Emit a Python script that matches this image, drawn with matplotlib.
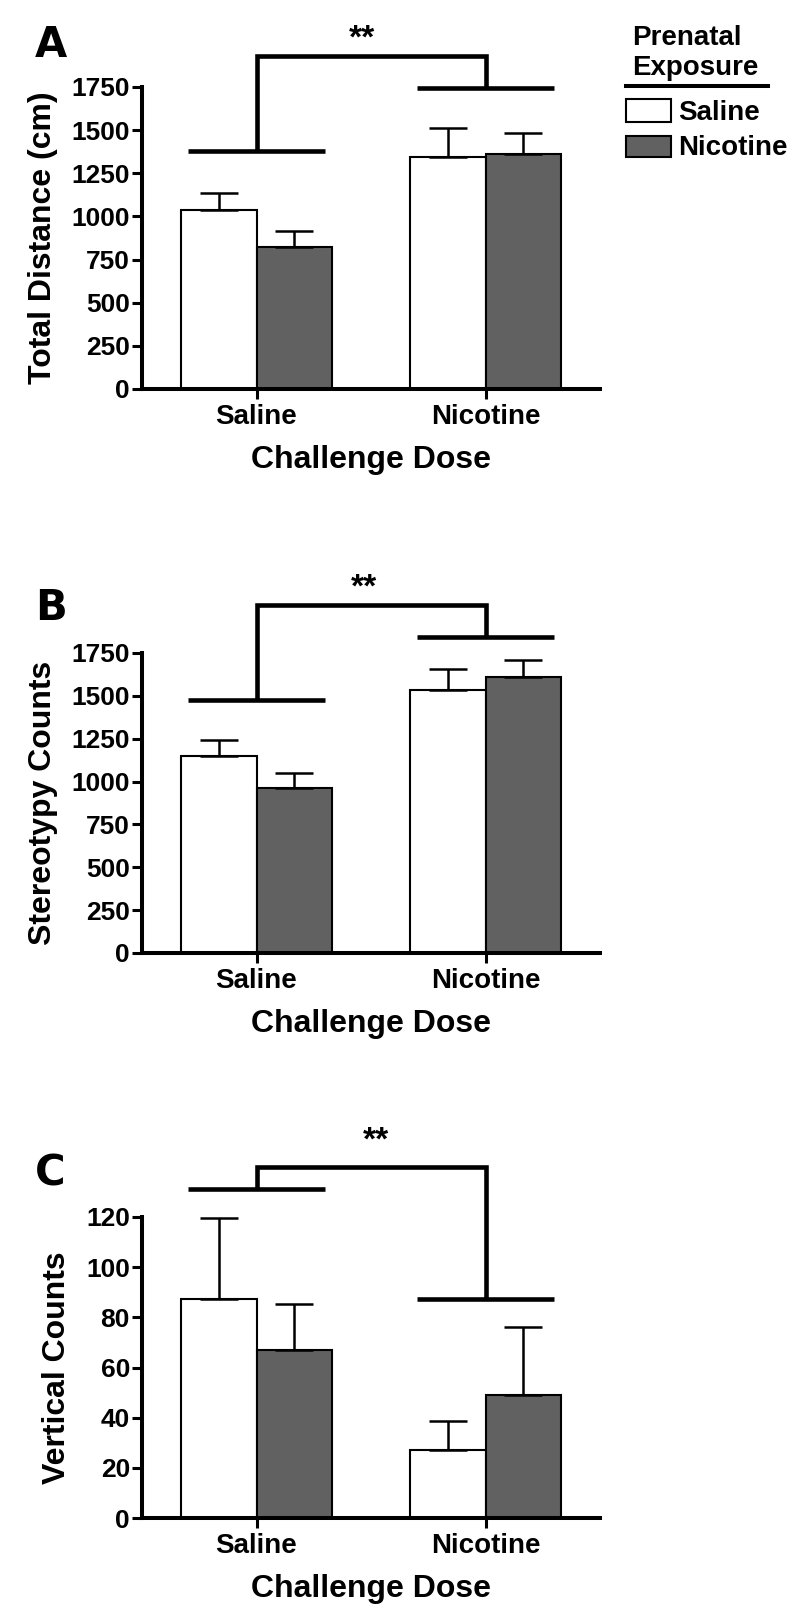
import matplotlib
matplotlib.use("Agg")
import matplotlib.pyplot as plt
import numpy as np
from matplotlib.patches import Rectangle
from matplotlib.lines import Line2D

plt.rcParams['font.family'] = ['Liberation Sans', 'DejaVu Sans']
plt.rcParams['font.weight'] = 'bold'

# ---------------- data ----------------
challenge = ['Saline', 'Nicotine']
series_names = ['Saline', 'Nicotine']  # prenatal exposure

a_saline = [1040, 1347]
a_saline_err = [94, 165]
a_nicotine = [824, 1362]
a_nicotine_err = [93, 121]

b_saline = [1149, 1533]
b_saline_err = [96, 124]
b_nicotine = [960, 1610]
b_nicotine_err = [92, 101]

c_saline = [87.3, 27.0]
c_saline_err = [32.3, 11.8]
c_nicotine = [66.8, 48.9]
c_nicotine_err = [18.6, 27.1]

ylabels = ['Total Distance (cm)', 'Stereotypy Counts', 'Vertical Counts']
panel_letters = ['A', 'B', 'C']
yticks_ab = [0, 250, 500, 750, 1000, 1250, 1500, 1750]
yticks_c = [0, 20, 40, 60, 80, 100, 120]

# significance bracket levels (data units): left group line, right group line, top line
bracket_left = [1380, 1478, 131.2]
bracket_right = [1747, 1845, 87.3]
bracket_top = [1930, 2031, 139.9]
star_x = [0.46, 0.47, 0.52]
star_text = '**'

# ---------------- layout ----------------
W, H = 800, 1612
fig = plt.figure(figsize=(W / 100, H / 100), dpi=100)

def rect(left, top, right, bottom):
    return [left / W, 1 - bottom / H, (right - left) / W, (bottom - top) / H]

ax_rects = [rect(142, 87, 600, 389), rect(142, 653, 600, 953), rect(142, 1217, 600, 1518)]
letter_pos = [(35, 57), (35, 620), (35, 1185)]
star_off = [12, 12, 19]

grey = '#616161'
bw = 0.33

datasets = [
    (a_saline, a_saline_err, a_nicotine, a_nicotine_err, yticks_ab),
    (b_saline, b_saline_err, b_nicotine, b_nicotine_err, yticks_ab),
    (c_saline, c_saline_err, c_nicotine, c_nicotine_err, yticks_c),
]

for i, (sal, sal_e, nic, nic_e, yt) in enumerate(datasets):
    ax = fig.add_axes(ax_rects[i])
    x = np.arange(len(challenge))
    ax.bar(x - bw / 2, sal, width=bw, color='white', edgecolor='black', linewidth=1.5, zorder=2)
    ax.bar(x + bw / 2, nic, width=bw, color=grey, edgecolor='black', linewidth=1.5, zorder=2)
    ax.errorbar(x - bw / 2, sal, yerr=[np.zeros(len(sal)), sal_e], fmt='none', ecolor='black',
                elinewidth=1.8, capsize=14, capthick=1.8, zorder=3, clip_on=False)
    ax.errorbar(x + bw / 2, nic, yerr=[np.zeros(len(nic)), nic_e], fmt='none', ecolor='black',
                elinewidth=1.8, capsize=14, capthick=1.8, zorder=3, clip_on=False)

    ax.set_xlim(-0.5, 1.5)
    ax.set_ylim(yt[0], yt[-1])
    ax.set_yticks(yt)
    ax.set_xticks(x)
    ax.set_xticklabels(challenge, fontsize=20, fontweight='bold')
    for lab in ax.get_yticklabels():
        lab.set_fontsize(19)
        lab.set_fontweight('bold')
    ax.tick_params(axis='y', length=7.2, width=2.2, pad=1.5, direction='out')
    ax.tick_params(axis='x', length=7.5, width=2.2, pad=3.5, direction='out')
    for s in ['top', 'right']:
        ax.spines[s].set_visible(False)
    for s in ['left', 'bottom']:
        ax.spines[s].set_linewidth(2.9)
        ax.spines[s].set_capstyle('projecting')
    ax.set_ylabel(ylabels[i], fontsize=23, fontweight='bold', labelpad=10)
    ax.set_xlabel('Challenge Dose', fontsize=23, fontweight='bold', labelpad=10.5)

    # significance brackets
    lw = 3.3
    ax.plot([-0.3, 0.3], [bracket_left[i]] * 2, color='black', lw=lw, clip_on=False,
            solid_capstyle='butt')
    ax.plot([0.7, 1.3], [bracket_right[i]] * 2, color='black', lw=lw, clip_on=False,
            solid_capstyle='butt')
    ax.plot([0, 0, 1, 1], [bracket_left[i], bracket_top[i], bracket_top[i], bracket_right[i]],
            color='black', lw=lw, clip_on=False, solid_joinstyle='miter', solid_capstyle='butt')
    ax.annotate(star_text, xy=(star_x[i], bracket_top[i]), xytext=(0, star_off[i]),
                textcoords='offset points', ha='center', va='center', fontsize=24,
                fontweight='bold', annotation_clip=False)

    fig.text(letter_pos[i][0] / W, 1 - letter_pos[i][1] / H, panel_letters[i],
             fontsize=30, fontweight='bold', ha='left', va='baseline',
             family=['DejaVu Sans'])

# ---------------- legend ----------------
fig.text(632 / W, 1 - 45 / H, 'Prenatal', fontsize=20, fontweight='bold', va='baseline', ha='left')
fig.text(632 / W, 1 - 75 / H, 'Exposure', fontsize=20, fontweight='bold', va='baseline', ha='left')
fig.add_artist(Line2D([626 / W, 768 / W], [1 - 86 / H, 1 - 86 / H], color='black', lw=2.9,
                      transform=fig.transFigure))
box_tops = [99, 136]
box_bottoms = [122, 157]
text_base = [120, 155]
colors = ['white', grey]
for j, name in enumerate(series_names):
    fig.add_artist(Rectangle((626 / W, 1 - box_bottoms[j] / H), 45 / W,
                             (box_bottoms[j] - box_tops[j]) / H, facecolor=colors[j],
                             edgecolor='black', linewidth=1.5, transform=fig.transFigure))
    fig.text(678 / W, 1 - text_base[j] / H, name, fontsize=20, fontweight='bold',
             va='baseline', ha='left')

fig.savefig('out.png', dpi=100)
